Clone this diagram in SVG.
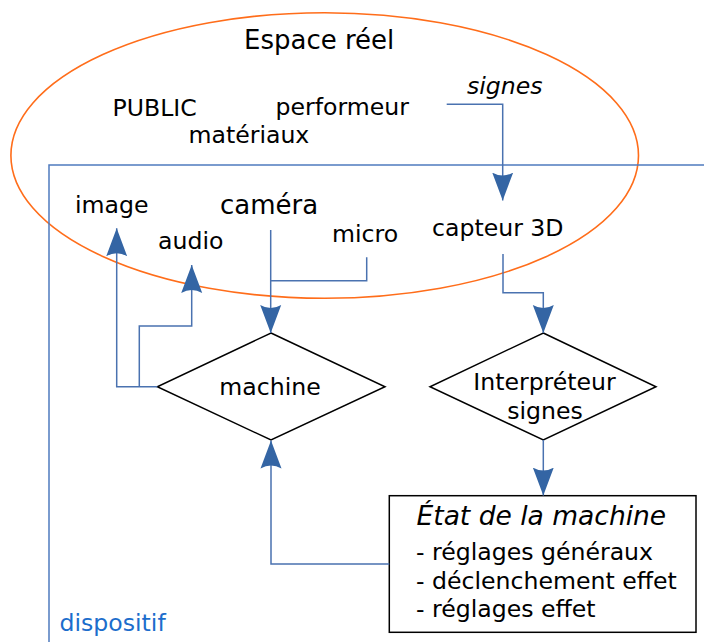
<svg xmlns="http://www.w3.org/2000/svg" width="704" height="642" viewBox="0 0 704 642">
<style>
text{font-family:"DejaVu Sans","Verdana",sans-serif;font-size:23.6px;fill:#000}
.big{font-size:26px}
.it{font-style:italic}
.con{fill:none;stroke:#4a72b0;stroke-width:1.5}
.shape{fill:#fff;stroke:#000;stroke-width:1.5}
</style>
<defs>
<marker id="ah" viewBox="0 -11 28 22" refX="28" refY="0" markerWidth="28" markerHeight="22" markerUnits="userSpaceOnUse" orient="auto">
<path d="M28,0 L0,-10.5 Q6,0 0,10.5 Z" fill="#3465a4"/>
</marker>
</defs>
<rect width="704" height="642" fill="#fff"/>
<g id="espace-reel">
<ellipse cx="324.7" cy="155.5" rx="313.8" ry="142.8" fill="none" stroke="#ff6d1a" stroke-width="1.6"/>
<text class="big" x="244" y="49">Espace réel</text>
<text x="112.5" y="116">PUBLIC</text>
<text x="275.5" y="115">performeur</text>
<text x="188.5" y="143">matériaux</text>
<text class="it" x="467" y="94">signes</text>
</g>
<g id="dispositif">
<rect x="49" y="165" width="700" height="500" fill="none" stroke="#4f7bbf" stroke-width="1.5"/>
<text x="59.5" y="630.7" style="fill:#1c6dcc">dispositif</text>
</g>
<g id="image"><text x="75" y="213">image</text></g>
<g id="audio"><text x="158" y="249">audio</text></g>
<g id="camera"><text class="big" x="220" y="214.3">caméra</text></g>
<g id="micro"><text x="332" y="241.7">micro</text></g>
<g id="capteur"><text x="432" y="236">capteur 3D</text></g>
<g id="machine">
<polygon class="shape" points="271,333 385,386.7 271,440 157.3,386.7"/>
<text x="270" y="395" text-anchor="middle">machine</text>
</g>
<g id="interpreteur">
<polygon class="shape" points="543.3,333 656,386.7 543.3,440 430,386.7"/>
<text x="544.5" y="390" text-anchor="middle">Interpréteur</text>
<text x="545" y="419" text-anchor="middle">signes</text>
</g>
<g id="etat">
<rect class="shape" x="389.3" y="495.7" width="306.7" height="136.6"/>
<text class="it" x="416.5" y="525" style="font-size:26.5px">État de la machine</text>
<text x="416" y="560">- réglages généraux</text>
<text x="416" y="589">- déclenchement effet</text>
<text x="416" y="617.3">- réglages effet</text>
</g>
<g id="connectors">
<path class="con" d="M446.7,104.3 H502.7 V200.5" marker-end="url(#ah)"/>
<path class="con" d="M503,254 V292.7 H543.3 V333" marker-end="url(#ah)"/>
<path class="con" d="M543.3,440 V495.5" marker-end="url(#ah)"/>
<path class="con" d="M270.7,230 V333" marker-end="url(#ah)"/>
<path class="con" d="M366.7,257.3 V280.7 H270.7"/>
<path class="con" d="M157.3,386.7 H116.7 V228.3" marker-end="url(#ah)"/>
<path class="con" d="M139.3,386.7 V326 H191.7 V265" marker-end="url(#ah)"/>
<path class="con" d="M389.3,564 H271 V440.5" marker-end="url(#ah)"/>
</g>
</svg>
